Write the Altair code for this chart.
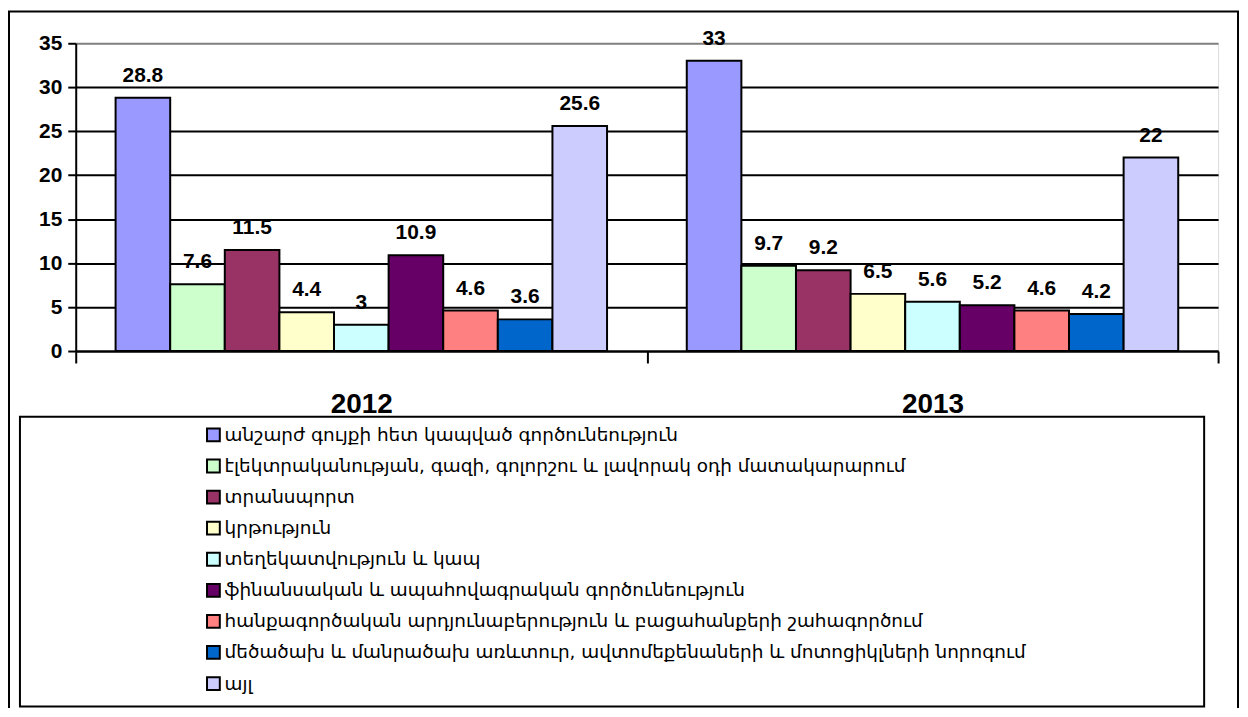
import altair as alt
import pandas as pd

years = ["2012", "2013"]
categories = [
    "անշարժ գույքի հետ կապված գործունեություն",
    "էլեկտրականության, գազի, գոլորշու և լավորակ  օդի  մատակարարում",
    "տրանսպորտ",
    "կրթություն",
    "տեղեկատվություն և կապ",
    "ֆինանսական և ապահովագրական գործունեություն",
    "հանքագործական արդյունաբերություն և բացահանքերի շահագործում",
    "մեծածախ և մանրածախ առևտուր, ավտոմեքենաների և մոտոցիկլների նորոգում",
    "այլ",
]
values_2012 = [28.8, 7.6, 11.5, 4.4, 3, 10.9, 4.6, 3.6, 25.6]
values_2013 = [33, 9.7, 9.2, 6.5, 5.6, 5.2, 4.6, 4.2, 22]
colors = ["#9999FF", "#CCFFCC", "#993366", "#FFFFCC", "#CCFFFF",
          "#660066", "#FF8080", "#0066CC", "#CCCCFF"]
y_ticks = [0, 5, 10, 15, 20, 25, 30, 35]

rows = []
for yr, vals in zip(years, [values_2012, values_2013]):
    for c, v in zip(categories, vals):
        rows.append({"year": yr, "category": c, "value": v, "label": f"{v:g}"})
df = pd.DataFrame(rows)

W, H = 1147, 309

x_enc = alt.X(
    "year:N",
    scale=alt.Scale(paddingInner=0, paddingOuter=0),
    axis=alt.Axis(
        title=None, labelAngle=0, tickBand="extent", tickSize=12, tickWidth=2,
        tickColor="black", domainColor="black", domainWidth=2,
        labelFont="Liberation Sans", labelFontSize=28, labelFontWeight="bold",
        labelPadding=28, labelColor="black", grid=False,
    ),
)
xoff_enc = alt.XOffset(
    "category:N", sort=categories,
    scale=alt.Scale(paddingInner=0, paddingOuter=0.73),
)
y_enc = alt.Y(
    "value:Q",
    scale=alt.Scale(domain=[0, 35], nice=False),
    axis=alt.Axis(
        title=None, values=y_ticks, tickSize=8, tickWidth=2, tickColor="black",
        domainColor="black", domainWidth=2, labelFont="Liberation Sans",
        labelFontSize=21, labelFontWeight="bold", labelColor="black",
        labelPadding=6, grid=True, gridWidth=2,
        gridColor={"condition": {"test": "datum.value == 35", "value": "#808080"},
                   "value": "black"},
    ),
)
color_enc = alt.Color(
    "category:N", sort=categories,
    scale=alt.Scale(domain=categories, range=colors),
    legend=alt.Legend(
        title=None, orient="none", legendX=129, legendY=384,
        symbolType="square", symbolSize=165, symbolStrokeColor="black",
        symbolStrokeWidth=2, symbolOpacity=1, labelFont="DejaVu Sans",
        labelFontSize=18.5, labelColor="black", rowPadding=9.2, labelOffset=2,
        labelLimit=1200, padding=0,
    ),
)

bars = alt.Chart(df).mark_bar(stroke="black", strokeWidth=2, opacity=1).encode(
    x=x_enc, xOffset=xoff_enc, y=y_enc, color=color_enc,
)
labels = alt.Chart(df).mark_text(
    font="Liberation Sans", fontSize=21, fontWeight="bold", color="black",
    baseline="alphabetic", dy=-16,
).encode(x=x_enc, xOffset=xoff_enc, y=y_enc, text="label:N")

frame_df = pd.DataFrame({"k": [0]})
legend_box = alt.Chart(frame_df).mark_rect(
    filled=False, stroke="black", strokeWidth=2, clip=False,
).encode(x=alt.value(-56), x2=alt.value(1133), y=alt.value(375), y2=alt.value(666))
outer_box = alt.Chart(frame_df).mark_rect(
    filled=False, stroke="black", strokeWidth=2, clip=False,
).encode(x=alt.value(-67), x2=alt.value(1167), y=alt.value(-32), y2=alt.value(690))

chart = alt.layer(outer_box, legend_box, bars, labels).properties(
    width=W, height=H,
    autosize=alt.AutoSizeParams(type="none"),
    padding={"left": 68, "top": 34, "right": 22, "bottom": 357},
).configure_view(
    fill="#C0C0C0", stroke="#808080", strokeWidth=2,
).configure(background="white")

chart.save("out.html", embed_options={"renderer": "svg", "actions": False})
